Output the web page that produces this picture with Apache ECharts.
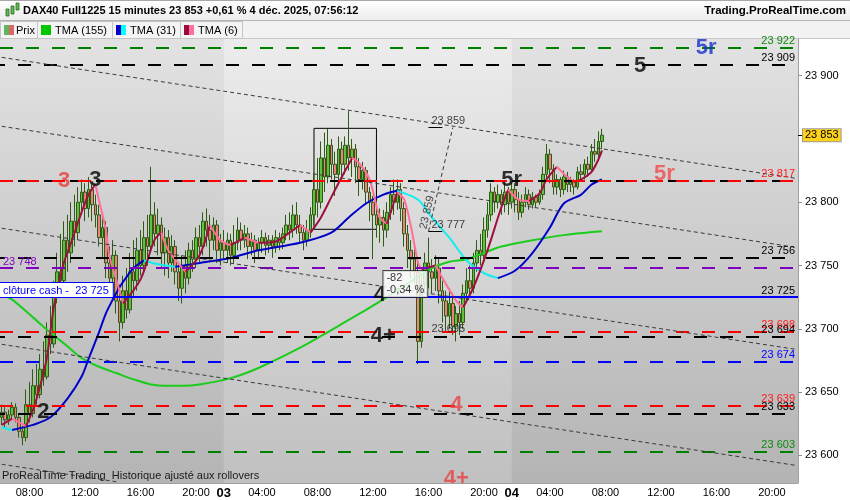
<!DOCTYPE html>
<html><head><meta charset="utf-8">
<script src="https://cdn.jsdelivr.net/npm/echarts@6/dist/echarts.min.js"></script>
<style>html,body{margin:0;padding:0;background:#fff}#c{width:850px;height:500px}</style>
</head><body><div id="c"></div>
<script>
// ---------- DATA ----------
const sessions = [['02','06:00','21:45'],['03','01:15','21:45'],['04','01:15','21:45']];
const shownTimes = ['04:00','08:00','12:00','16:00','20:00'];

const opens = [23630,23634,23628,23632,23638,23630,23619,23614,23640,23633,
23655,23648,23668,23662,23695,23688,23725,23745,23738,23770,
23760,23785,23776,23800,23808,23795,23810,23798,23790,23772,
23780,23752,23740,23758,23722,23705,23730,23715,23745,23738,
23762,23750,23772,23765,23790,23775,23782,23760,23772,23752,
23765,23745,23732,23750,23740,23762,23755,23772,23765,23785,
23778,23770,23782,23762,23768,23762,23770,23758,23768,23778,
23770,23775,23765,23770,23762,23768,23772,23766,23770,23765,
23772,23768,23775,23782,23778,23790,23782,23776,23770,23778,
23790,23810,23800,23835,23820,23845,23830,23822,23842,23830,
23845,23835,23842,23828,23818,23825,23808,23800,23790,23782,
23788,23778,23792,23806,23800,23810,23795,23775,23762,23755,
23745,23690,23735,23752,23745,23740,23748,23730,23722,23710,
23720,23702,23712,23705,23728,23738,23732,23752,23762,23758,
23778,23790,23808,23800,23806,23798,23808,23800,23810,23802,
23792,23800,23806,23798,23804,23800,23806,23822,23838,23826,
23812,23818,23810,23820,23814,23816,23812,23824,23822,23830,
23826,23840,23838,23848];
const closes = [23634,23628,23632,23638,23630,23619,23614,23640,23633,23655,
23648,23668,23662,23695,23688,23725,23745,23738,23770,23760,
23785,23776,23800,23808,23795,23810,23798,23790,23772,23780,
23752,23740,23758,23722,23705,23730,23715,23745,23738,23762,
23750,23772,23765,23790,23775,23782,23760,23772,23752,23765,
23745,23732,23750,23740,23762,23755,23772,23765,23785,23778,
23770,23782,23762,23768,23762,23770,23758,23768,23778,23770,
23775,23765,23770,23762,23768,23772,23766,23770,23765,23772,
23768,23775,23782,23778,23790,23782,23776,23770,23778,23790,
23810,23800,23835,23820,23845,23830,23822,23842,23830,23845,
23835,23842,23828,23818,23825,23808,23800,23790,23782,23788,
23778,23792,23806,23800,23810,23795,23775,23762,23755,23745,
23690,23735,23752,23745,23740,23748,23730,23722,23710,23720,
23702,23712,23705,23728,23738,23732,23752,23762,23758,23778,
23790,23808,23800,23806,23798,23808,23800,23810,23802,23792,
23800,23806,23798,23804,23800,23806,23822,23838,23826,23812,
23818,23810,23820,23814,23816,23812,23824,23822,23830,23826,
23840,23838,23848,23853];
const lows = [23624,23622,23624,23628,23626,23614,23608,23611,23626,23630,
23640,23645,23655,23660,23680,23685,23720,23728,23732,23745,
23752,23765,23770,23790,23785,23788,23785,23780,23765,23755,
23740,23725,23730,23712,23690,23700,23708,23712,23725,23730,
23742,23745,23750,23760,23765,23758,23748,23742,23740,23745,
23735,23722,23720,23728,23735,23745,23748,23752,23758,23765,
23755,23762,23752,23750,23755,23752,23750,23752,23762,23762,
23764,23755,23758,23752,23755,23760,23758,23760,23756,23760,
23762,23763,23770,23770,23772,23775,23768,23762,23765,23772,
23782,23788,23795,23808,23815,23818,23805,23815,23818,23822,
23825,23820,23815,23805,23810,23798,23785,23755,23772,23768,
23765,23772,23786,23790,23794,23785,23765,23748,23740,23735,
23672,23685,23728,23732,23728,23730,23720,23705,23698,23700,
23695,23690,23695,23700,23722,23725,23728,23745,23750,23755,
23772,23785,23792,23795,23790,23792,23790,23795,23792,23786,
23788,23796,23794,23795,23796,23798,23802,23818,23815,23806,
23806,23804,23806,23808,23808,23806,23810,23818,23818,23820,
23824,23832,23835,23842];
const highs = [23640,23638,23636,23642,23641,23632,23623,23652,23658,23668,
23672,23680,23690,23705,23718,23738,23760,23775,23785,23790,
23800,23806,23812,23818,23815,23820,23814,23806,23798,23790,
23785,23765,23770,23762,23735,23742,23748,23760,23770,23772,
23778,23785,23790,23828,23800,23795,23788,23780,23778,23774,
23770,23752,23758,23762,23768,23770,23780,23782,23792,23795,
23790,23788,23786,23775,23778,23776,23775,23782,23788,23784,
23782,23780,23776,23774,23772,23778,23776,23774,23774,23778,
23776,23780,23790,23792,23798,23800,23790,23782,23786,23796,
23822,23835,23848,23855,23858,23850,23840,23852,23848,23852,
23872,23850,23846,23835,23832,23828,23812,23805,23798,23795,
23794,23800,23812,23818,23818,23815,23800,23782,23770,23768,
23752,23742,23760,23772,23755,23758,23755,23738,23730,23732,
23728,23718,23722,23735,23748,23750,23760,23770,23775,23788,
23800,23815,23812,23814,23810,23815,23812,23816,23815,23808,
23806,23812,23810,23808,23806,23810,23828,23846,23842,23830,
23822,23820,23825,23824,23820,23818,23828,23830,23834,23836,
23846,23850,23856,23858];

// moving averages: [bar index, value]
const tma6 = [[0,23624],[3,23629],[7,23623],[9,23636],[11,23654],[13,23677],[15,23717],[17,23742],[18,23753],[20,23768],
[23,23792],[25,23806],[27,23814],[28,23802],[30,23778],[31,23758],[33,23739],[35,23720],[40,23739],[44,23770],
[46,23776],[48,23762],[53,23745],[57,23758],[60,23782],[63,23770],[66,23766],[70,23772],[74,23768],[79,23769],
[83,23776],[86,23782],[89,23776],[92,23788],[95,23804],[98,23820],[101,23835],[103,23831],[106,23818],[109,23788],
[111,23783],[114,23808],[116,23802],[118,23780],[120,23752],[121,23747],[125,23750],[131,23722],[133,23717],[136,23733],
[140,23762],[144,23796],[146,23810],[149,23802],[152,23801],[155,23807],[157,23818],[160,23828],[163,23820],[165,23816],
[167,23818],[170,23824],[172,23834],[173,23841]];
const tma31 = [[0,23622],[3,23620],[9,23624],[14,23630],[19,23645],[23,23662],[25,23676],[28,23697],[30,23712],[32,23723],
[34,23733],[36,23741],[38,23748],[41,23754],[45,23751],[50,23749],[57,23752],[66,23756],[74,23762],[86,23768],
[95,23776],[100,23788],[105,23799],[110,23806],[114,23809],[120,23802],[124,23788],[129,23772],[134,23754],[139,23744],
[143,23740],[148,23746],[153,23760],[158,23780],[162,23799],[167,23806],[170,23814],[173,23818]];
const tma155 = [[0,23727],[3,23723],[9,23709],[14,23697],[19,23686],[23,23677],[28,23670],[33,23665],[38,23660],[43,23656],
[48,23655],[52,23655],[57,23656],[66,23661],[74,23669],[86,23685],[95,23699],[105,23715],[111,23725],[120,23741],
[124,23748],[129,23753],[134,23755],[139,23760],[144,23765],[153,23770],[162,23774],[173,23777]];

const levelValues = [23922,23909,23817,23817,23756,23748,23725,23725,23698,23694,23674,23639,23633,23603];
const lastPrice = 23853;
const yTicks = [23600,23650,23700,23750,23800,23900];

// channel lines: [startBar, startPrice, endBar, endPrice]
const channelLines = [[0,23914.5,229,23818.8],[0,23860,229,23764.3],[0,23779.4,229,23683.7],[0,23687.7,229,23592],[0,23592.9,33,23579.1]];
const measureLine = [123,23777,130,23859];
const measureBox = [90,23858.4,108,23778.6];
const underlines = [[123,127,23859],[123,127,23777]];

const annoText = ['3','3','2','4','4+','5r','5r','5','5r','4','4+'];
const annoIdx = [18,27,12,109,110,147,191,184,203,131,131];
const annoPrice = [23817,23818,23634,23727,23694,23818,23822,23908,23922,23640,23581];

const measText = ['23 859','23 777','23 695'];
const measIdx = [123,123,123];
const measPrice = [23859,23777,23695];
const rotText = '23 859', rotIdx = 122, rotPrice = 23792;
const deltaText = ['-82','-0,34 %'], deltaIdx = 110, deltaPrice = 23745.6;

// ---------- STYLES ----------
const FONT = '"Liberation Sans", Arial, sans-serif';
const yMin = 23578.1, yMax = 23929.0;
const levelStyles = [
 {c:'#008000',d:true,o:0,lab:'end',lc:'#0a8a0a'},
 {c:'#000000',d:true,o:8,lab:'end',lc:'#000'},
 {c:'#000000',d:true,o:8,lab:null},
 {c:'#ff0000',d:true,o:0,lab:'end',lc:'#ff1a1a'},
 {c:'#000000',d:true,o:8,lab:'end',lc:'#000'},
 {c:'#8000c0',d:true,o:0,lab:'start',lc:'#8000c0'},
 {c:'#0000ff',d:false,lab:'end',lc:'#000'},
 {c:'#0000ff',d:false,lab:'cash',lc:'#0000ff'},
 {c:'#ff0000',d:true,o:0,lab:'end',lc:'#ff1a1a'},
 {c:'#000000',d:true,o:8,lab:'end',lc:'#000'},
 {c:'#0000ff',d:true,o:0,lab:'end',lc:'#0000ff'},
 {c:'#ff0000',d:true,o:0,lab:'end',lc:'#ff1a1a'},
 {c:'#000000',d:true,o:8,lab:'end',lc:'#000'},
 {c:'#008000',d:true,o:0,lab:'end',lc:'#0a8a0a'}
];
const annoColors = ['#e83c3c','#000','#000','#000','#000','#000','#f04a4a','#000','#1630d0','#e84444','#e84444'];

// ---------- BUILD ----------
const fmt = v => Math.floor(v/1000) + ' ' + String(Math.round(v)%1000).padStart(3,'0');
const categories = [];
sessions.forEach(([d,s,e]) => {
  const [sh,sm] = s.split(':').map(Number), [eh,em] = e.split(':').map(Number);
  for (let t = sh*60+sm; t <= eh*60+em; t += 15)
    categories.push(d + ' ' + String(Math.floor(t/60)).padStart(2,'0') + ':' + String(t%60).padStart(2,'0'));
});
const isDayStart = i => i > 0 && categories[i-1].slice(0,2) !== categories[i].slice(0,2);
const showLabel = (i) => isDayStart(i) || shownTimes.includes(categories[i].slice(3));

const candleData = opens.map((o,i) => [o, closes[i], lows[i], highs[i]]);

function splitByDir(points){
  const segs = [];
  for (let i = 0; i < points.length-1; i++){
    const r = points[i+1][1] >= points[i][1];
    const last = segs[segs.length-1];
    if (last && last.r === r) last.pts.push(points[i+1]);
    else segs.push({r, pts:[points[i], points[i+1]]});
  }
  return segs;
}
function maSeries(points, upColor, downColor, z){
  return splitByDir(points).map(s => ({
    type:'line', data:s.pts, showSymbol:false, smooth:0.3, silent:true, z:z,
    lineStyle:{color: s.r ? upColor : downColor, width:2}, itemStyle:{color: s.r ? upColor : downColor}
  }));
}

const levelItems = [];
levelValues.forEach((v,i) => {
  const st = levelStyles[i];
  const item = {yAxis:v, lineStyle:{color:st.c, width:2, type: st.d ? [13,13] : 'solid', dashOffset: st.o || 0}, label:{show:false}};
  if (st.lab === 'end') item.label = {show:true, position:'insideEndTop', formatter: fmt(v), color: st.lc, fontSize:11, fontFamily:FONT, distance:[3,1]};
  if (st.lab === 'start') item.label = {show:true, position:'insideStartTop', formatter: fmt(v), color: st.lc, fontSize:11, fontFamily:FONT, distance:[3,1]};
  if (st.lab === 'cash') item.label = {show:true, position:'insideStartTop', formatter: 'clôture cash -  ' + fmt(v), color: st.lc, fontSize:11, fontFamily:FONT,
    backgroundColor:'#fff', borderColor:'#0000ff', borderWidth:1, padding:[2,4,1,3], distance:[0,0]};
  levelItems.push(item);
});
const diagStyle = {color:'#3a3a3a', width:1, type:[4,3]};
const channelItems = channelLines.map(l => [{coord:[l[0],l[1]], lineStyle:diagStyle}, {coord:[l[2],l[3]]}]);
channelItems.push([{coord:[measureLine[0],measureLine[1]], lineStyle:diagStyle}, {coord:[measureLine[2],measureLine[3]]}]);
underlines.forEach(u => channelItems.push([{coord:[u[0],u[2]], lineStyle:{color:'#000', width:1, type:'solid'}}, {coord:[u[1],u[2]]}]));

const annoData = annoText.map((t,i) => ({value:[annoIdx[i], annoPrice[i]],
  label:{show:true, formatter:t, position:'inside', color:annoColors[i], fontSize:22, fontWeight:'bold', fontFamily:FONT}}));
measText.forEach((t,i) => annoData.push({value:[measIdx[i], measPrice[i]],
  label:{show:true, formatter:t, position:[3,-1], align:'left', verticalAlign:'bottom', color:'#111', fontSize:11, fontFamily:FONT}}));
annoData.push({value:[rotIdx, rotPrice], label:{show:true, formatter:rotText, position:[2,0], align:'center', verticalAlign:'middle', rotate:77, color:'#222', fontSize:11, fontFamily:FONT}});
annoData.push({value:[deltaIdx, deltaPrice], label:{show:true, formatter:deltaText.join('\n'), position:[0,0], align:'left', verticalAlign:'top',
  color:'#000', fontSize:11, lineHeight:12, fontFamily:FONT, backgroundColor:'#fff', borderColor:'#222', borderWidth:1, padding:[1,3,1,3]}});

const grad = (a,b) => ({type:'linear', x:0, y:0, x2:0, y2:1, colorStops:[{offset:0,color:a},{offset:1,color:b}]});

const legendBoxes = [[0,37],[37,75],[112,68],[180,62]];
const legendNames = ['Prix','TMA (155)','TMA (31)','TMA (6)'];
const legendIcons = [['#5cb85c','#e06666'],['#00c800','#00c800'],['#0000cc','#00ffff'],['#9b0a3a','#ff6f9f']];
const graphics = [
  {type:'rect', shape:{x:0,y:0,width:850,height:20}, style:{fill:grad('#ffffff','#ededed')}},
  {type:'line', shape:{x1:0,y1:0.5,x2:850,y2:0.5}, style:{stroke:'#a8a8a8'}},
  {type:'rect', shape:{x:0,y:20,width:850,height:19}, style:{fill:'#f2f2f2'}},
  {type:'line', shape:{x1:0,y1:20.5,x2:850,y2:20.5}, style:{stroke:'#b4b4b4'}},
  {type:'line', shape:{x1:0,y1:38.5,x2:850,y2:38.5}, style:{stroke:'#c8c8c8'}},
  {type:'rect', shape:{x:6,y:9,width:3,height:7}, style:{fill:'#5cb85c', stroke:'#2e6b16', lineWidth:0.8}},
  {type:'rect', shape:{x:11,y:6,width:3,height:8}, style:{fill:'#5cb85c', stroke:'#2e6b16', lineWidth:0.8}},
  {type:'rect', shape:{x:16,y:3,width:3,height:7}, style:{fill:'#5cb85c', stroke:'#2e6b16', lineWidth:0.8}},
  {type:'text', x:23, y:11, style:{text:'DAX40 Full1225 15 minutes 23 853 +0,61 % 4 déc. 2025, 07:56:12', font:'bold 11px '+FONT, fill:'#000', verticalAlign:'middle'}},
  {type:'text', x:846, y:11, style:{text:'Trading.ProRealTime.com', font:'bold 11.5px '+FONT, fill:'#000', align:'right', verticalAlign:'middle'}}
];
legendBoxes.forEach((b,i) => {
  graphics.push({type:'rect', shape:{x:b[0]+0.5,y:21.5,width:b[1],height:17}, style:{fill:'#f4f4f4', stroke:'#c4c4c4'}});
  const ix = b[0] + 4;
  graphics.push({type:'rect', shape:{x:ix,y:25,width:5,height:10}, style:{fill:legendIcons[i][0]}});
  graphics.push({type:'rect', shape:{x:ix+5,y:25,width:5,height:10}, style:{fill:legendIcons[i][1]}});
  graphics.push({type:'text', x:ix+(i===0?12:14), y:30.5, style:{text:legendNames[i], font:'11px '+FONT, fill:'#000', verticalAlign:'middle'}});
});
graphics.forEach(g => { g.silent = true; });
graphics.push({type:'text', z:100, silent:true, x:2, y:476, style:{text:'ProRealTime Trading  Historique ajusté aux rollovers', font:'11px '+FONT, fill:'#1a1a1a', verticalAlign:'middle'}});
graphics.push({type:'rect', z:100, silent:true, shape:{x:0,y:483.5,width:850,height:17}, style:{fill:'#ffffff'}});

const series = [
  {type:'line', data:[], z:1, silent:true,
   markArea:{silent:true, data:[[{xAxis:64, itemStyle:{color:grad('#ececec','#c0c0c0')}},{xAxis:147}]]}},
  {type:'candlestick', data:candleData, z:2, barWidth:3, silent:true,
   itemStyle:{color:'#62c040', color0:'#f08080', borderColor:'#2e5c14', borderColor0:'#2e5c14', borderWidth:1}},
  {type:'line', data:[], z:3, silent:true,
   markLine:{silent:true, symbol:['none','none'], animation:false, data: levelItems.concat(channelItems)},
   markArea:{silent:true, data:[[{xAxis:measureBox[0], yAxis:measureBox[1], itemStyle:{color:'rgba(0,0,0,0)', borderColor:'#000', borderWidth:1}},{xAxis:measureBox[2], yAxis:measureBox[3]}]]}},
  {type:'line', data:tma155, showSymbol:false, smooth:0.3, silent:true, z:4, lineStyle:{color:'#1ccc1c', width:2}},
  ...maSeries(tma31, '#0000c8', '#10eeee', 4),
  ...maSeries(tma6, '#a0103f', '#ff6f9a', 4),
  {type:'scatter', data:annoData, symbolSize:0, z:6, silent:true, clip:false}
];

const chart = echarts.init(document.getElementById('c'));
chart.setOption({
  animation:false,
  textStyle:{fontFamily:FONT},
  grid:{left:0, right:52, top:39, bottom:17, show:true, borderWidth:0, backgroundColor:grad('#e2e2e2','#b4b4b4')},
  xAxis:{type:'category', data:categories, boundaryGap:true, zlevel:2,
    axisLine:{lineStyle:{color:'#a0a0a0'}},
    axisTick:{alignWithLabel:true, interval:(i)=>showLabel(i), length:3, lineStyle:{color:'#909090'}},
    axisLabel:{interval:(i)=>showLabel(i), color:'#000', fontSize:11, margin:4, fontFamily:FONT,
      formatter:(v,i)=> isDayStart(i) ? '{d|'+v.slice(0,2)+'}' : v.slice(3),
      rich:{d:{fontWeight:'bold', fontSize:13, fontFamily:FONT, color:'#000'}}},
    splitLine:{show:false}},
  yAxis:[
    {type:'value', position:'right', min:yMin, max:yMax, scale:true,
     axisLine:{show:true, lineStyle:{color:'#a0a0a0'}},
     axisTick:{show:true, customValues:yTicks, length:4, lineStyle:{color:'#909090'}},
     axisLabel:{customValues:yTicks, formatter:fmt, color:'#000', fontSize:11, margin:7, fontFamily:FONT},
     splitLine:{show:false}},
    {type:'value', position:'right', min:yMin, max:yMax, scale:true,
     axisLine:{show:false},
     axisTick:{show:true, customValues:[lastPrice], length:4, lineStyle:{color:'#000'}},
     axisLabel:{customValues:[lastPrice], formatter:fmt, color:'#000', fontSize:11, margin:5, fontFamily:FONT,
       backgroundColor:'#ffd21a', borderColor:'#9a9a9a', borderWidth:1, padding:[1,2,0,2]},
     splitLine:{show:false}}
  ],
  graphic:{elements:graphics},
  series: series
});
</script></body></html>
